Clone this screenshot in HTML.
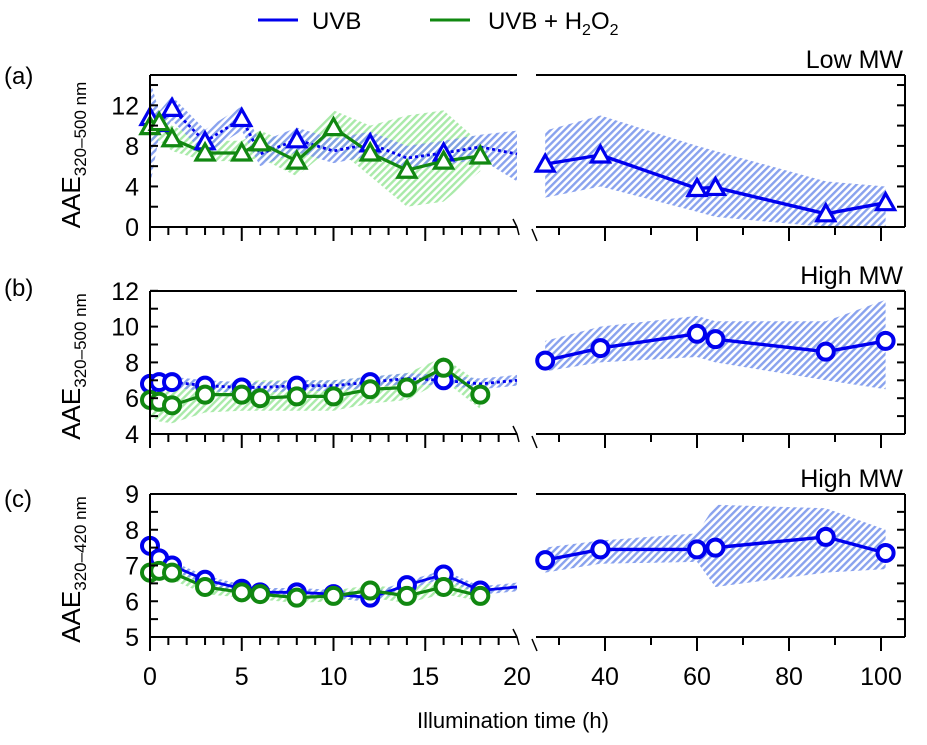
<!DOCTYPE html>
<html><head><meta charset="utf-8"><style>
body{margin:0;background:#fff}
svg{display:block;font-family:"Liberation Sans",sans-serif}
</style></head><body>
<svg id="chart" width="927" height="745" viewBox="0 0 927 745">
<defs>
<pattern id="hb" width="5" height="5" patternUnits="userSpaceOnUse" patternTransform="rotate(45)"><rect width="2.4" height="5" fill="#7c98ec"/></pattern>
<pattern id="hg" width="5" height="5" patternUnits="userSpaceOnUse" patternTransform="rotate(45)"><rect width="2.4" height="5" fill="#9fe89f"/></pattern>
</defs>
<g id="legend">
<line x1="258" y1="20" x2="298" y2="20" stroke="#0000ee" stroke-width="3"/>
<text x="312" y="29" font-size="24">UVB</text>
<line x1="430" y1="20" x2="470" y2="20" stroke="#118811" stroke-width="3"/>
<text x="488" y="29" font-size="24">UVB + H<tspan font-size="16" dy="6">2</tspan><tspan dy="-6">O</tspan><tspan font-size="16" dy="6">2</tspan></text>
</g>
<text x="513" y="728" font-size="22" text-anchor="middle">Illumination time (h)</text>
<g id="plots"></g>
</svg>
<script>
// ---- data ----
const tLeftBlue = [0, 0.5, 1.2, 3, 5, 6, 8, 10, 12, 14, 16, 18, 20];
const tLeftGreen = [0, 0.5, 1.2, 3, 5, 6, 8, 10, 12, 14, 16, 18];
const tRight = [27, 39, 60, 64, 88, 101];

const aBlueL = [10.8, 10.2, 11.7, 8.4, 10.7, 7.2, 8.6, 7.5, 8.2, 6.8, 7.3, 7.9, 7.2];
const aGreenL = [9.9, 10.3, 8.7, 7.3, 7.3, 8.3, 6.5, 9.8, 7.3, 5.6, 6.5, 7.0];
const aGreenUp = [11.5, 11.5, 10, 8.5, 8.5, 9.5, 8, 11.5, 10, 11, 11.5, 8.3];
const aGreenLo = [8.5, 8.5, 7.5, 6.5, 6.5, 6.8, 5, 8, 5, 2, 2.5, 5.5];
const aBlueR = [6.2, 7.1, 3.8, 3.9, 1.3, 2.4];
const aBlueRUp = [9.5, 11, 8, 7.5, 4.5, 4];
const aBlueRLo = [2.9, 4, 1.5, 1.0, 0, 0];

const bBlueL = [6.8, 6.9, 6.9, 6.7, 6.6, 6.6, 6.7, 6.7, 6.9, 7.1, 7.0, 6.8, 7.0];
const bGreenL = [5.9, 5.8, 5.6, 6.2, 6.2, 6.0, 6.1, 6.1, 6.5, 6.6, 7.7, 6.2];
const bGreenUp = [6.6, 6.6, 6.6, 6.9, 6.9, 7.0, 7.0, 7.0, 7.2, 7.4, 8.3, 6.8];
const bGreenLo = [5.0, 4.7, 4.6, 5.2, 5.3, 5.3, 5.3, 5.3, 5.7, 5.9, 7.0, 5.4];
const bBlueR = [8.1, 8.8, 9.6, 9.3, 8.6, 9.2];
const bBlueRUp = [9.2, 10, 10.6, 10.3, 10.3, 11.5];
const bBlueRLo = [7.5, 8, 8.3, 8, 7, 6.5];

const cBlueL = [7.55, 7.2, 7.0, 6.6, 6.35, 6.25, 6.25, 6.2, 6.1, 6.45, 6.75, 6.3, 6.4];
const cGreenL = [6.8, 6.85, 6.8, 6.4, 6.25, 6.2, 6.1, 6.15, 6.3, 6.15, 6.4, 6.15];
const cGreenUp = [7.0, 7.0, 7.0, 6.6, 6.4, 6.35, 6.25, 6.3, 6.45, 6.35, 6.6, 6.3];
const cGreenLo = [6.6, 6.6, 6.6, 6.2, 6.1, 6.05, 5.95, 6.0, 6.1, 5.95, 6.2, 6.0];
const cBlueR = [7.15, 7.45, 7.45, 7.5, 7.8, 7.35];
const cBlueRUp = [7.5, 7.7, 7.9, 8.7, 8.6, 8.0];
const cBlueRLo = [6.8, 7.05, 7.1, 6.4, 6.8, 6.9];

const xTicksL = [0, 5, 10, 15, 20];
const xTicksR = [40, 60, 80, 100];
const yTicksA = [0, 4, 8, 12];
const yTicksB = [4, 6, 8, 10, 12];
const yTicksC = [5, 6, 7, 8, 9];

// ---- scales ----
const xL = v => 150 + v * 18.35;
const xR = v => 605 + (v - 40) * 4.6;
const NS = 'http://www.w3.org/2000/svg';
const root = document.getElementById('plots');
function mk(tag, attrs, parent) {
  const e = document.createElementNS(NS, tag);
  for (const k in attrs) e.setAttribute(k, attrs[k]);
  (parent || root).appendChild(e);
  return e;
}
const panels = [
  {id:'a', top:75, y:v => 227 - v * 10.14, bottom:227, ymin:0, ymax:14.8, yt:yTicksA, minor:2, label:'(a)', labY:84, tag:'Low MW', sub:'320–500 nm', mk:'tri',
   bl:aBlueL, gl:aGreenL, gu:aGreenUp, glo:aGreenLo, br:aBlueR, bru:aBlueRUp, brl:aBlueRLo},
  {id:'b', top:291, y:v => 434 - (v - 4) * 17.9, bottom:434, ymin:4, ymax:12, yt:yTicksB, minor:1, label:'(b)', labY:296, tag:'High MW', sub:'320–500 nm', mk:'circ',
   bl:bBlueL, gl:bGreenL, gu:bGreenUp, glo:bGreenLo, br:bBlueR, bru:bBlueRUp, brl:bBlueRLo},
  {id:'c', top:494, y:v => 637 - (v - 5) * 35.75, bottom:637, ymin:5, ymax:9, yt:yTicksC, minor:0.5, label:'(c)', labY:507, tag:'High MW', sub:'320–420 nm', mk:'circ',
   bl:cBlueL, gl:cGreenL, gu:cGreenUp, glo:cGreenLo, br:cBlueR, bru:cBlueRUp, brl:cBlueRLo}
];
function band(xs, up, lo, xf, yf, fill, g) {
  let d = 'M' + xs.map((t, i) => xf(t) + ',' + yf(up[i])).join('L');
  d += 'L' + xs.map((t, i) => xf(t) + ',' + yf(lo[i])).reverse().join('L') + 'Z';
  return mk('path', {d, fill, opacity: 0.9}, g);
}
function line(xs, vs, xf, yf, color, w, g, dash) {
  const a = {d:'M' + xs.map((t, i) => xf(t) + ',' + yf(vs[i])).join('L'), fill:'none', stroke:color, 'stroke-width':w, 'stroke-linejoin':'round'};
  if (dash) a['stroke-dasharray'] = dash;
  return mk('path', a, g);
}
function marker(type, cx, cy, color, g) {
  if (type === 'tri') return mk('path', {d:`M${cx},${cy-9}L${cx+9},${cy+7}L${cx-9},${cy+7}Z`, fill:'#fff', stroke:color, 'stroke-width':3.2}, g);
  return mk('circle', {cx, cy, r:8, fill:'#fff', stroke:color, 'stroke-width':4}, g);
}
panels.forEach(p => {
  const g = mk('g', {});
  
  
  const Y = p.y;
  const gb = band(tLeftGreen, p.gu, p.glo, xL, Y, 'url(#hg)', g);
  
  
  const bUp = p.bl.map(v => v + (p.id === 'a' ? 1.2 : p.id === 'b' ? 0.3 : 0.12));
  const bLo = p.bl.map(v => v - (p.id === 'a' ? 1.2 : p.id === 'b' ? 0.3 : 0.12));
  if (p.id === 'a') { bUp[bUp.length-1] = 9.5; bLo[bLo.length-1] = 4.5; bUp[0] = 14.5; bLo[0] = 4; }
  const bb = band(tLeftBlue, bUp, bLo, xL, Y, 'url(#hb)', g);
  
  
  const br = band(tRight, p.bru, p.brl, xR, Y, 'url(#hb)', g);
  
  
  const lb = line(tLeftBlue, p.bl, xL, Y, '#0000ee', 2.8, g, p.id === 'c' ? null : '3 3');
  
  
  const lg = line(tLeftGreen, p.gl, xL, Y, '#118811', 3.2, g);
  
  
  const lr = line(tRight, p.br, xR, Y, '#0000ee', 3.4, g);
  
  
  tLeftBlue.slice(0, tLeftBlue.length - 1).forEach((t, i) => {
    if (p.id !== 'c' && i > 4 && i % 2) return;
    const m = marker(p.mk, xL(t), Y(p.bl[i]), '#0000ee', g);
    
    
  });
  tLeftGreen.forEach((t, i) => {
    const m = marker(p.mk, xL(t), Y(p.gl[i]), '#118811', g);
    
    
  });
  tRight.forEach((t, i) => {
    const m = marker(p.mk, xR(t), Y(p.br[i]), '#0000ee', g);
    
    
  });
  const ax = mk('g', {stroke:'#000', 'stroke-width':2, fill:'none'}, g);
  
  
  mk('line', {x1:150, y1:p.top, x2:517, y2:p.top}, ax);
  mk('line', {x1:536, y1:p.top, x2:905, y2:p.top}, ax);
  mk('line', {x1:150, y1:p.bottom, x2:517, y2:p.bottom}, ax);
  mk('line', {x1:536, y1:p.bottom, x2:905, y2:p.bottom}, ax);
  mk('line', {x1:150, y1:p.top, x2:150, y2:p.bottom + 14}, ax);
  mk('line', {x1:905, y1:p.top, x2:905, y2:p.bottom}, ax);
  mk('path', {d:`M513,${p.bottom-8}l4,8l2,8M532,${p.bottom+2}l5,12`, 'stroke-width':1.5}, ax);
  for (let v = p.ymin; v <= p.ymax + 0.01; v += p.minor) {
    const y = Y(v);
    if (y < p.top - 1) continue;
    mk('line', {x1:150, y1:y, x2:158, y2:y}, ax);
    mk('line', {x1:897, y1:y, x2:905, y2:y}, ax);
  }
  for (let t = 1; t < 20; t++) mk('line', {x1:xL(t), y1:p.bottom, x2:xL(t), y2:p.bottom + (t % 5 ? 8 : 14)}, ax);
  [30, 50, 70, 90].forEach(t => mk('line', {x1:xR(t), y1:p.bottom, x2:xR(t), y2:p.bottom + 8}, ax));
  xTicksR.forEach(t => mk('line', {x1:xR(t), y1:p.bottom, x2:xR(t), y2:p.bottom + 14}, ax));
  p.yt.forEach(v => {
    const tx = mk('text', {x:139, y:Y(v) + 9, 'font-size':25, 'text-anchor':'end'}, g);
    tx.textContent = v;
    
    
  });
  const lab = mk('text', {x:4, y:p.labY, 'font-size':24}, g);
  lab.textContent = p.label;
  
  
  const tg = mk('text', {x:903, y:p.top - 7, 'font-size':25, 'text-anchor':'end'}, g);
  tg.textContent = p.tag;
  
  
  const ty = mk('text', {x:0, y:0, 'font-size':26, transform:`translate(80,${(p.top + p.bottom) / 2 + 4}) rotate(-90)`, 'text-anchor':'middle'}, g);
  ty.innerHTML = 'AAE<tspan font-size="17" dy="6">' + p.sub + '</tspan>';
  
  
});
xTicksL.forEach(t => {
  const e = mk('text', {x:xL(t), y:685, 'font-size':25, 'text-anchor':'middle'});
  e.textContent = t;
  
  
});
xTicksR.forEach(t => {
  const e = mk('text', {x:xR(t), y:685, 'font-size':25, 'text-anchor':'middle'});
  e.textContent = t;
  
  
});
</script>
</body></html>
